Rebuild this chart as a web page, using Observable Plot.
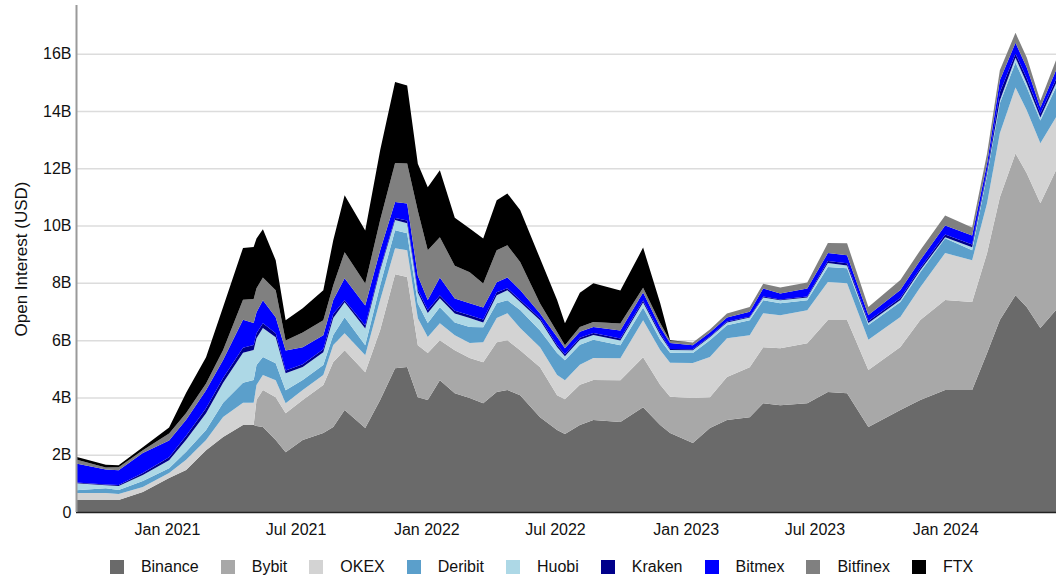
<!DOCTYPE html>
<html>
<head>
<meta charset="utf-8">
<script src="https://cdn.jsdelivr.net/npm/d3@7"></script>
<script src="https://cdn.jsdelivr.net/npm/@observablehq/plot@0.6"></script>
<style>
  html, body { margin: 0; padding: 0; background: #fff; }
  body { font-family: "Liberation Sans", Arial, sans-serif; width: 1060px; height: 579px; overflow: hidden; }
  #chart svg { display: block; }
  #legend { display: flex; justify-content: center; align-items: center; height: 34px; padding-top: 10px; padding-left: 23px; box-sizing: border-box; font-size: 16px; color: #111; }
  .item { display: flex; align-items: center; margin-right: 22px; }
  .item:last-child { margin-right: 0; }
  .sw { width: 14px; height: 14px; margin-right: 17px; }
</style>
</head>
<body>
<div id="chart"></div>
<div id="legend"></div>
<script>
const dates = [
  "2020-08-26","2020-10-07","2020-10-25","2020-11-28","2021-01-04","2021-01-28","2021-02-25","2021-03-21",
  "2021-04-18","2021-05-03","2021-05-07","2021-05-16","2021-06-03","2021-06-17","2021-07-11","2021-08-09",
  "2021-08-23","2021-09-08","2021-10-07","2021-10-28","2021-11-18","2021-12-05","2021-12-20","2022-01-03",
  "2022-01-20","2022-02-10","2022-03-03","2022-03-22","2022-04-10","2022-04-25","2022-05-13","2022-06-10",
  "2022-07-04","2022-07-15","2022-08-05","2022-08-24","2022-10-01","2022-11-02","2022-11-26","2022-12-10",
  "2023-01-11","2023-02-04","2023-02-28","2023-04-01","2023-04-20","2023-05-14","2023-06-21","2023-07-20",
  "2023-08-16","2023-09-15","2023-10-30","2023-11-27","2024-01-01","2024-02-08","2024-02-29","2024-03-18",
  "2024-04-09","2024-04-25","2024-05-14","2024-06-05"
];

// Open interest per exchange, billions USD
const binance = [0.42,0.42,0.42,0.70,1.19,1.47,2.16,2.62,3.04,3.04,3.00,2.97,2.51,2.09,2.51,2.76,2.97,3.56,2.93,3.91,5.02,5.06,4.01,3.91,4.60,4.15,3.98,3.80,4.19,4.26,4.08,3.31,2.86,2.72,3.04,3.21,3.14,3.66,3.04,2.76,2.41,2.93,3.21,3.31,3.80,3.73,3.80,4.19,4.15,2.97,3.56,3.91,4.26,4.26,5.55,6.70,7.57,7.15,6.42,7.05];
const bybit   = [0,0,0,0,0,0,0,0,0,0,0.91,1.29,1.50,1.36,1.40,1.67,2.27,2.09,1.95,2.44,3.28,3.14,1.81,1.64,1.40,1.50,1.40,1.43,1.74,1.74,1.57,1.74,1.22,1.22,1.40,1.40,1.46,1.74,1.40,1.26,1.57,1.08,1.50,1.74,1.95,1.99,2.09,2.51,2.55,1.99,2.20,2.79,3.14,3.07,3.49,4.29,4.95,4.67,4.36,4.88];
const okex    = [0.24,0.24,0.21,0.17,0.17,0.35,0.35,0.70,0.77,0.77,0.52,0.52,0.59,0.35,0.35,0.35,0.59,0.59,0.59,1.05,0.91,0.94,0.94,0.56,0.59,0.52,0.52,0.70,0.84,0.94,0.77,0.70,0.70,0.66,0.70,0.77,0.77,1.29,1.22,1.19,1.22,1.40,1.36,1.12,1.19,1.15,1.15,1.33,1.29,1.05,1.05,1.15,1.64,1.46,1.74,2.23,2.30,2.20,2.09,1.85];
const deribit = [0.10,0.17,0.14,0.21,0.17,0.28,0.35,0.49,0.70,0.80,0.70,0.63,0.59,0.45,0.35,0.35,0.35,0.56,0.35,0.52,0.63,0.59,0.52,0.49,0.56,0.45,0.56,0.52,0.52,0.45,0.63,0.59,0.77,0.70,0.70,0.63,0.45,0.45,0.35,0.35,0.35,0.59,0.45,0.52,0.45,0.42,0.35,0.52,0.52,0.52,0.52,0.52,0.52,0.35,0.98,1.05,0.87,0.80,0.80,1.05];
const huobi   = [0.24,0.10,0.14,0.21,0.28,0.42,0.59,0.70,1.05,1.05,0.94,1.01,0.91,0.59,0.45,0.45,0.59,0.52,0.59,0.52,0.35,0.35,0.38,0.35,0.31,0.31,0.31,0.17,0.28,0.35,0.28,0.35,0.21,0.14,0.17,0.17,0.17,0.17,0.17,0.10,0.10,0.10,0.10,0.10,0.10,0.10,0.10,0.14,0.10,0.07,0.07,0.07,0.03,0.10,0.07,0.10,0.17,0.14,0.10,0.14];
const kraken  = [0.03,0.03,0.03,0.07,0.10,0.14,0.17,0.17,0.17,0.17,0.17,0.17,0.14,0.10,0.10,0.10,0.14,0.07,0.10,0.07,0.07,0.10,0.10,0.10,0.10,0.10,0.10,0.10,0.10,0.07,0.07,0.07,0.07,0.07,0.07,0.07,0.07,0.07,0.07,0.03,0.03,0.03,0.03,0.03,0.03,0.03,0.03,0.07,0.07,0.07,0.07,0.07,0.10,0.10,0.10,0.28,0.14,0.17,0.14,0.14];
const bitmex  = [0.66,0.52,0.52,0.70,0.59,0.56,0.63,0.63,0.98,0.77,0.73,0.80,0.56,0.70,0.59,0.49,0.49,0.77,0.70,0.63,0.56,0.59,0.49,0.35,0.63,0.42,0.42,0.42,0.35,0.38,0.35,0.17,0.28,0.21,0.21,0.21,0.28,0.28,0.21,0.21,0.14,0.14,0.14,0.17,0.28,0.21,0.28,0.28,0.28,0.21,0.28,0.28,0.31,0.31,0.24,0.42,0.38,0.38,0.21,0.31];
const bitfinex= [0.14,0.07,0.10,0.10,0.24,0.24,0.24,0.35,0.70,0.84,0.84,0.80,0.94,0.35,0.52,0.52,0.52,0.91,0.77,1.05,1.36,1.40,2.27,1.74,1.40,1.15,1.08,0.84,1.12,1.12,0.98,0.35,0.17,0.10,0.17,0.17,0.24,0.17,0.14,0.07,0.10,0.10,0.14,0.17,0.17,0.21,0.21,0.35,0.42,0.28,0.35,0.35,0.35,0.28,0.35,0.35,0.35,0.35,0.24,0.35];
const ftx     = [0.10,0.10,0.07,0.10,0.21,0.70,0.91,1.50,1.81,1.81,1.74,1.68,1.05,0.70,0.84,1.05,1.57,1.99,1.85,2.44,2.83,2.72,1.64,2.20,2.34,1.67,1.53,1.57,1.74,1.81,1.81,1.57,1.12,0.77,1.19,1.36,1.15,1.40,0.70,0.03,0,0,0,0,0,0,0,0,0,0,0,0,0,0,0,0,0,0,0,0];

const exchanges = ["Binance","Bybit","OKEX","Deribit","Huobi","Kraken","Bitmex","Bitfinex","FTX"];
const colors = ["#6a6a6a","#a8a8a8","#d3d3d3","#5b9fcb","#add8e6","#00008b","#0000ff","#808080","#000000"];
const xTicks = ["2021-01-01","2021-07-01","2022-01-01","2022-07-01","2023-01-01","2023-07-01","2024-01-01"];
const yTicks = [0,2,4,6,8,10,12,14,16];

const seriesList = [binance, bybit, okex, deribit, huobi, kraken, bitmex, bitfinex, ftx];
const rows = exchanges.flatMap((name, i) =>
  dates.map((d, j) => ({date: new Date(d), exchange: name, value: seriesList[i][j]})));

const x0 = new Date(dates[0]);
const x1 = new Date(dates[dates.length - 1]);

const chart = Plot.plot({
  width: 1060,
  height: 545,
  marginLeft: 76,
  marginRight: 4,
  marginTop: 5,
  marginBottom: 33,
  style: {fontFamily: "'Liberation Sans', Arial, sans-serif", fontSize: "16px", color: "#111", background: "#fff"},
  x: {type: "utc", domain: [x0, x1]},
  y: {domain: [0, 17.7]},
  color: {domain: exchanges, range: colors},
  marks: [
    Plot.gridY(yTicks.filter(d => d > 0), {stroke: "#dcdcdc", strokeOpacity: 1, strokeWidth: 1.5}),
    Plot.areaY(rows, {x: "date", y: "value", fill: "exchange", curve: "linear"}),
    Plot.axisX({ticks: xTicks.map(d => new Date(d)), tickSize: 0, tickPadding: 11, tickFormat: d3.utcFormat("%b %Y"), label: null, fontSize: 16}),
    Plot.axisY({ticks: yTicks, tickSize: 0, tickPadding: 5, tickFormat: d => d === 0 ? "0" : d + "B", label: null, fontSize: 16}),
    Plot.axisY({ticks: [], tickSize: 0, label: "Open Interest (USD)", labelAnchor: "center", labelArrow: "none", labelOffset: 62, fontSize: 17}),
    Plot.ruleY([0], {stroke: "#222", strokeWidth: 1.5}),
    Plot.ruleX([x0], {stroke: "#9a9a9a", strokeWidth: 2})
  ]
});
document.getElementById("chart").appendChild(chart);

const legend = document.getElementById("legend");
exchanges.forEach((name, i) => {
  const item = document.createElement("div");
  item.className = "item";
  const sw = document.createElement("div");
  sw.className = "sw";
  sw.style.background = colors[i];
  const label = document.createElement("span");
  label.textContent = name;
  item.appendChild(sw);
  item.appendChild(label);
  legend.appendChild(item);
});
</script>
</body>
</html>
